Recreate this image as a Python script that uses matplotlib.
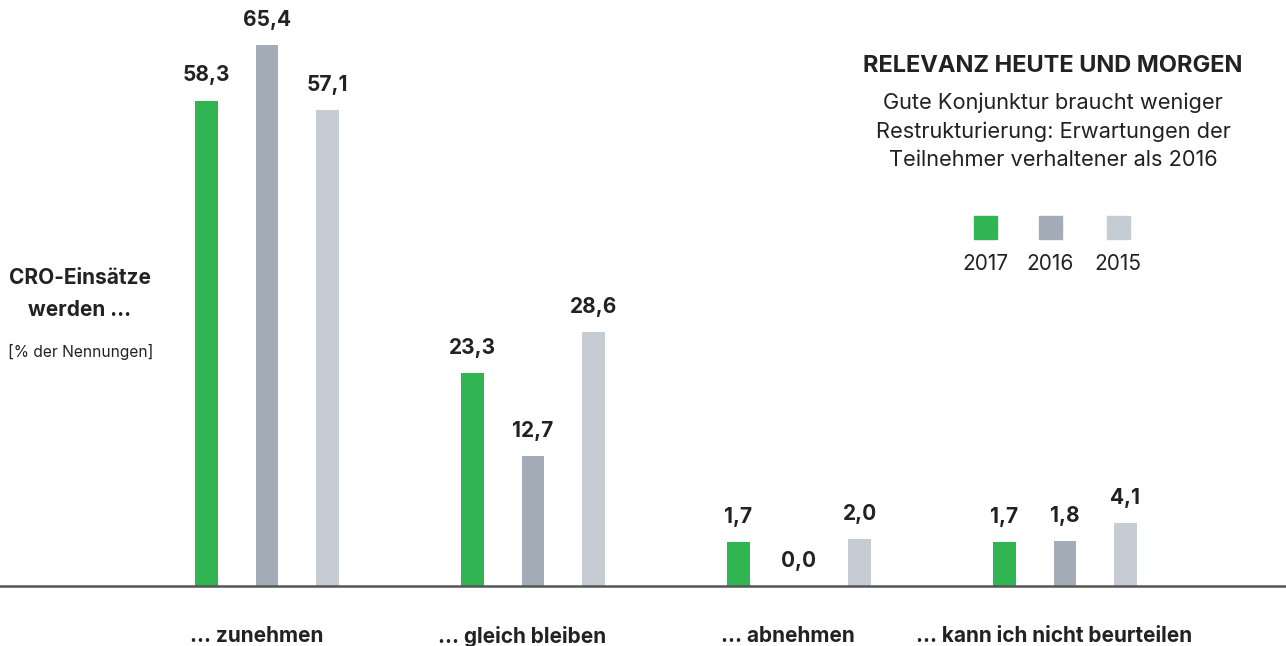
import numpy as np
import matplotlib.pyplot as plt

categories = ['... zunehmen', '... gleich bleiben', '... abnehmen', '... kann ich nicht beurteilen']
years = ['2017', '2016', '2015']
v2017 = [58.3, 23.3, 1.7, 1.7]
v2016 = [65.4, 12.7, 0.0, 1.8]
v2015 = [57.1, 28.6, 2.0, 4.1]

colors = ['#30b552', '#a4adb7', '#c5ccd4']
txt = '#222222'

plt.rcParams['font.family'] = ['Inter', 'DejaVu Sans']

fig = plt.figure(figsize=(12.86, 6.46), dpi=100)
ax = fig.add_axes([0, 0.0929, 1, 0.9071])

# bars in the original start a little below the axis line
base = -3.97

x = np.arange(len(categories))
step = 0.2275
w = 0.085
series = [v2017, v2016, v2015]
for j, vals in enumerate(series):
    xs = x + (j - 1) * step
    hs = [v - base if v > 0 else 0 for v in vals]
    ax.bar(xs, hs, bottom=base, width=w, color=colors[j], zorder=2)
    for xi, v, h in zip(xs, vals, hs):
        ax.annotate(f'{v:.1f}'.replace('.', ','), (xi, base + h), xytext=(0, 11),
                    textcoords='offset points', ha='center', va='bottom',
                    fontsize=15, fontweight='bold', color=txt)

ax.set_xlim(-1.004, 3.831)
ax.set_ylim(base, 71.2)
for s in ['top', 'right', 'left']:
    ax.spines[s].set_visible(False)
ax.spines['bottom'].set_color('#555555')
ax.spines['bottom'].set_linewidth(1.8)
ax.spines['bottom'].set_zorder(3)
ax.set_yticks([])
ax.set_xticks(x - 0.04)
ax.set_xticklabels(categories, fontsize=15, fontweight='bold', color=txt)
ax.tick_params(axis='x', length=0, pad=28.5)

# left label
fig.text(80 / 1286, 1 - 278 / 646, 'CRO-Einsätze', ha='center', va='center',
         fontsize=15, fontweight='bold', color=txt)
fig.text(80 / 1286, 1 - 310 / 646, 'werden ...', ha='center', va='center',
         fontsize=15, fontweight='bold', color=txt)
fig.text(80.5 / 1286, 1 - 352 / 646, '[% der Nennungen]', ha='center', va='center',
         fontsize=11.2, color=txt)

# title block
fig.text(1053 / 1286, 1 - 66 / 646, 'RELEVANZ HEUTE UND MORGEN', ha='center', va='center',
         fontsize=17, fontweight='bold', color=txt)
fig.text(1053 / 1286, 1 - 131 / 646,
         'Gute Konjunktur braucht weniger\nRestrukturierung: Erwartungen der\nTeilnehmer verhaltener als 2016',
         ha='center', va='center', fontsize=15.7, color=txt, linespacing=1.5)

# legend
leg_x = [985, 1050, 1118]
for lx, c, yr in zip(leg_x, colors, years):
    fig.patches.append(plt.Rectangle(((lx - 11.5) / 1286, 1 - 239 / 646), 23 / 1286, 23 / 646,
                                     transform=fig.transFigure, color=c, figure=fig))
    fig.text(lx / 1286, 1 - 264 / 646, yr, ha='center', va='center', fontsize=15, color=txt)

fig.savefig('out.png', dpi=100)
